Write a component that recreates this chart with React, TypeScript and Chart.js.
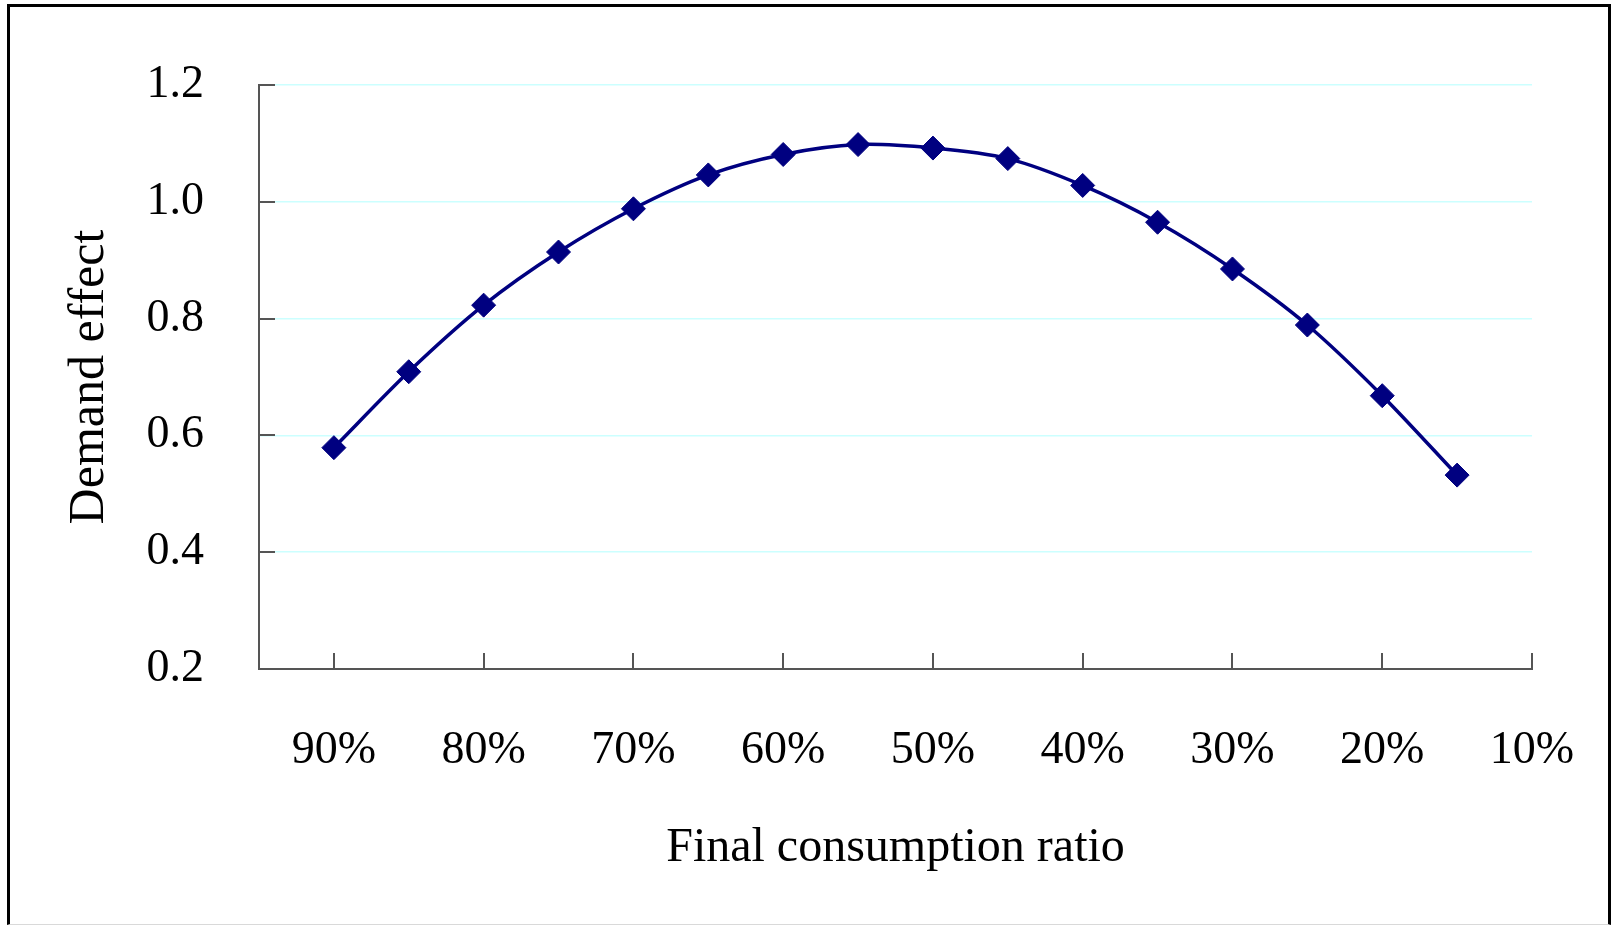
import React, { useEffect, useRef } from "react";
import { Chart, registerables } from "chart.js";

Chart.register(...registerables);

// ---- data ----
const consumptionRatios = [90, 85, 80, 75, 70, 65, 60, 55, 50, 45, 40, 35, 30, 25, 20, 15];
const demandEffect = [0.579, 0.709, 0.823, 0.914, 0.988, 1.046, 1.081, 1.098, 1.092, 1.074, 1.028, 0.965, 0.885, 0.789, 0.668, 0.532];
const xTickValues = [90, 80, 70, 60, 50, 40, 30, 20, 10];
const yTickValues = [0.2, 0.4, 0.6, 0.8, 1.0, 1.2];
const xAxisTitle = "Final consumption ratio";
const yAxisTitle = "Demand effect";

const FONT = '"Liberation Serif", "Times New Roman", serif';
const AXIS_COLOR = "#555555";

const innerTicks = {
  id: "innerTicks",
  beforeDatasetsDraw(chart: any) {
    const { ctx, chartArea, scales } = chart;
    ctx.save();
    ctx.strokeStyle = AXIS_COLOR;
    ctx.lineWidth = 2;
    ctx.beginPath();
    scales.y.ticks.forEach((t: any) => {
      const py = Math.round(scales.y.getPixelForValue(t.value));
      ctx.moveTo(chartArea.left, py);
      ctx.lineTo(chartArea.left + 16, py);
    });
    scales.x.ticks.forEach((t: any) => {
      const px = Math.round(scales.x.getPixelForValue(t.value));
      ctx.moveTo(px, chartArea.bottom);
      ctx.lineTo(px, chartArea.bottom - 16);
    });
    ctx.stroke();
    ctx.restore();
  },
};

export default function App() {
  const canvasRef = useRef<HTMLCanvasElement | null>(null);

  useEffect(() => {
    if (!canvasRef.current) return;
    const chart = new Chart(canvasRef.current, {
      type: "line",
      data: {
        datasets: [
          {
            label: yAxisTitle,
            data: consumptionRatios.map((x, i) => ({ x, y: demandEffect[i] })),
            borderColor: "#000080",
            backgroundColor: "#000080",
            borderWidth: 3.5,
            pointStyle: "rectRot",
            pointRadius: 12,
            pointHoverRadius: 12,
            pointBorderWidth: 1,
            pointBorderColor: "#000080",
            tension: 0.3,
            fill: false,
          },
        ],
      },
      options: {
        animation: false,
        responsive: false,
        maintainAspectRatio: false,
        layout: { padding: { left: 0, top: 85, right: 81, bottom: 0 } },
        plugins: {
          legend: { display: false },
          tooltip: { enabled: false },
        },
        scales: {
          x: {
            type: "linear",
            min: 10,
            max: 95,
            reverse: true,
            afterBuildTicks: (axis: any) => {
              axis.ticks = xTickValues.map((v) => ({ value: v }));
            },
            afterFit: (scale: any) => {
              scale.height = 256;
              scale.paddingLeft = 0;
              scale.paddingRight = 0;
            },
            grid: { display: false, drawTicks: false },
            border: { display: true, color: AXIS_COLOR, width: 2 },
            ticks: {
              color: "#000",
              font: { family: FONT, size: 46 },
              padding: 54,
              maxRotation: 0,
              autoSkip: false,
              callback: (v: any) => `${v}%`,
            },
            title: {
              display: true,
              text: xAxisTitle,
              color: "#000",
              font: { family: FONT, size: 48 },
              padding: { top: 0, bottom: 48 },
            },
          },
          y: {
            type: "linear",
            min: 0.2,
            max: 1.2,
            afterBuildTicks: (axis: any) => {
              axis.ticks = yTickValues.map((v) => ({ value: v }));
            },
            afterFit: (scale: any) => {
              scale.width = 259;
              scale.paddingTop = 0;
              scale.paddingBottom = 0;
            },
            grid: { display: true, drawTicks: false, color: "#ccffff", lineWidth: 1.5 },
            border: { display: true, color: AXIS_COLOR, width: 2 },
            ticks: {
              color: "#000",
              font: { family: FONT, size: 46 },
              padding: 55,
              callback: (v: any) => Number(v).toFixed(1),
            },
            title: {
              display: true,
              text: yAxisTitle,
              color: "#000",
              font: { family: FONT, size: 50 },
              padding: { top: 60, bottom: 0 },
            },
          },
        },
      },
      plugins: [innerTicks],
    });
    return () => chart.destroy();
  }, []);

  return (
    <div style={{ position: "fixed", left: 0, top: 0, width: 1613, height: 925, background: "#fff" }}>
      <canvas ref={canvasRef} width={1613} height={925} style={{ position: "absolute", left: 0, top: 0, width: 1613, height: 925 }} />
      <div
        style={{
          position: "absolute",
          left: 7,
          top: 4,
          width: 1604,
          height: 921,
          boxSizing: "border-box",
          borderTop: "3px solid #000",
          borderLeft: "3px solid #000",
          borderRight: "3px solid #000",
          borderBottom: "1px solid #d9d9d9",
          pointerEvents: "none",
        }}
      />
    </div>
  );
}
